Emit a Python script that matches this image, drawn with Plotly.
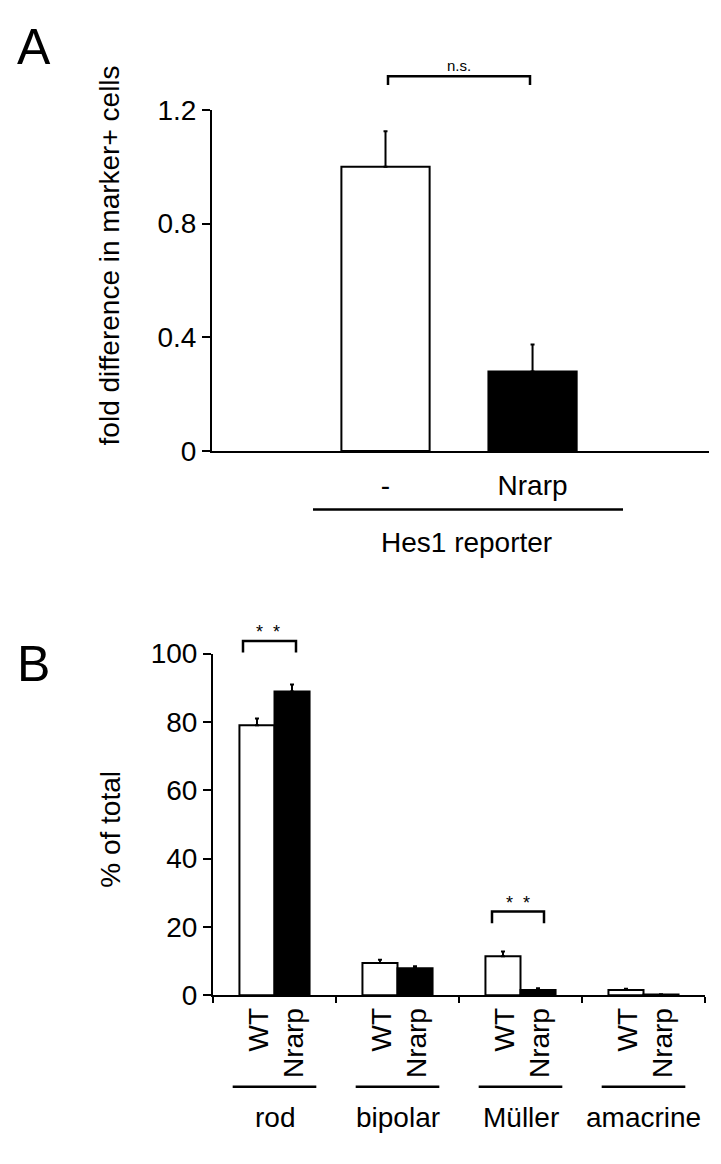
import plotly.graph_objects as go

# ---------------- data ----------------
A_categories = ["-", "Nrarp"]
A_values = [1.0, 0.28]
A_errors = [0.125, 0.095]
A_yticks = [0, 0.4, 0.8, 1.2]
A_yticktext = ["0", "0.4", "0.8", "1.2"]

B_cells = ["rod", "bipolar", "Müller", "amacrine"]
B_wt = [79.0, 9.4, 11.4, 1.5]
B_wt_err = [2.0, 1.0, 1.4, 0.4]
B_nrarp = [88.9, 7.9, 1.5, 0.2]
B_nrarp_err = [2.0, 0.6, 0.5, 0.1]
B_yticks = [0, 20, 40, 60, 80, 100]

W, H = 721, 1164
FONT = "Liberation Sans, Arial, Helvetica, sans-serif"


def px(x):
    return x / W


def py(y):
    return 1 - y / H


fig = go.Figure()

# Panel A
fig.add_trace(go.Bar(
    x=A_categories, y=A_values, width=0.6,
    marker=dict(color=["white", "black"], line=dict(color="black", width=2)),
    error_y=dict(type="data", array=A_errors, arrayminus=[0] * len(A_errors),
                 symmetric=False, color="black", thickness=2, width=2),
    xaxis="x", yaxis="y", showlegend=False,
))

# Panel B
fig.add_trace(go.Bar(
    x=B_cells, y=B_wt, name="WT",
    marker=dict(color="white", line=dict(color="black", width=2)),
    error_y=dict(type="data", array=B_wt_err, arrayminus=[0] * len(B_wt_err),
                 symmetric=False, color="black", thickness=2, width=2),
    xaxis="x2", yaxis="y2", showlegend=False,
))
fig.add_trace(go.Bar(
    x=B_cells, y=B_nrarp, name="Nrarp",
    marker=dict(color="black", line=dict(color="black", width=2)),
    error_y=dict(type="data", array=B_nrarp_err, arrayminus=[0] * len(B_nrarp_err),
                 symmetric=False, color="black", thickness=2, width=2),
    xaxis="x2", yaxis="y2", showlegend=False,
))

axis_common = dict(showgrid=False, zeroline=False, showline=True,
                   linecolor="black", linewidth=2, fixedrange=True)

fig.update_layout(
    width=W, height=H,
    margin=dict(l=0, r=0, t=0, b=0),
    paper_bgcolor="white", plot_bgcolor="white",
    font=dict(family=FONT, color="black", size=28),
    barmode="group", bargap=0.43, bargroupgap=0,
    xaxis=dict(domain=[px(212), px(709)], type="category", range=[-1.18, 2.2],
               ticks="outside", ticklen=8, tickcolor="rgba(0,0,0,0)",
               tickfont=dict(size=28), anchor="y", **axis_common),
    yaxis=dict(domain=[py(448), py(97.5)], range=[0, 1.2],
               tickvals=A_yticks, ticktext=A_yticktext,
               ticks="outside", ticklen=8, tickwidth=2, tickcolor="black",
               tickfont=dict(size=28), anchor="x", **axis_common),
    xaxis2=dict(domain=[px(213), px(705)], type="category", range=[-0.5, 3.5],
                ticks="outside", tickson="boundaries", ticklen=6, tickwidth=2,
                tickcolor="black", showticklabels=False, anchor="y2", **axis_common),
    yaxis2=dict(domain=[py(1007), py(656)], range=[0, 100],
                tickvals=B_yticks, ticks="outside", ticklen=8, tickwidth=2,
                tickcolor="black", tickfont=dict(size=28), anchor="x2", **axis_common),
)

ann = []
shapes = []

# panel letters
ann.append(dict(text="A", x=px(34), y=py(32.5), xref="paper", yref="paper",
                showarrow=False, xanchor="center", yanchor="middle",
                font=dict(size=50)))
ann.append(dict(text="B", x=px(33.5), y=py(666.5), xref="paper", yref="paper",
                showarrow=False, xanchor="center", yanchor="middle",
                font=dict(size=50)))

# axis titles
ann.append(dict(text="fold difference in marker+ cells", x=px(109), y=py(247),
                xref="paper", yref="paper", showarrow=False, textangle=-90,
                xanchor="center", yanchor="middle", font=dict(size=28)))
ann.append(dict(text="% of total", x=px(111), y=py(836),
                xref="paper", yref="paper", showarrow=False, textangle=-90,
                xanchor="center", yanchor="middle", font=dict(size=28)))

# panel A group line and label
shapes.append(dict(type="line", xref="paper", yref="paper",
                   x0=px(313), x1=px(623), y0=py(508), y1=py(508),
                   line=dict(color="black", width=2.5)))
ann.append(dict(text="Hes1 reporter", x=px(466), y=py(542), xref="paper", yref="paper",
                showarrow=False, xanchor="center", yanchor="middle", font=dict(size=28)))


def bracket(x0, x1, ytop, yleg):
    return dict(type="path", xref="paper", yref="paper",
                path=f"M {px(x0)},{py(yleg)} L {px(x0)},{py(ytop)} L {px(x1)},{py(ytop)} L {px(x1)},{py(yleg)}",
                line=dict(color="black", width=2.5))


STARS = "*\u00a0\u00a0*"

shapes.append(bracket(388, 530, 63, 72))
ann.append(dict(text="n.s.", x=px(459), y=py(52), xref="paper", yref="paper",
                showarrow=False, xanchor="center", yanchor="middle", font=dict(size=15)))

shapes.append(bracket(243, 296, 643, 655))
ann.append(dict(text=STARS, x=px(268), y=py(634), xref="paper", yref="paper",
                showarrow=False, xanchor="center", yanchor="middle", font=dict(size=18)))
shapes.append(bracket(492, 544, 921, 933))
ann.append(dict(text=STARS, x=px(518), y=py(912), xref="paper", yref="paper",
                showarrow=False, xanchor="center", yanchor="middle", font=dict(size=18)))

# panel B rotated genotype labels, underlines, cell labels
for i, cell in enumerate(B_cells):
    ann.append(dict(text="WT", x=i - 0.13, y=py(1018), xref="x2", yref="paper",
                    showarrow=False, textangle=-90, xanchor="center", yanchor="top",
                    font=dict(size=28)))
    ann.append(dict(text="Nrarp", x=i + 0.16, y=py(1018), xref="x2", yref="paper",
                    showarrow=False, textangle=-90, xanchor="center", yanchor="top",
                    font=dict(size=28)))
    shapes.append(dict(type="line", xref="x2", yref="paper",
                       x0=i - 0.34, x1=i + 0.34, y0=py(1101), y1=py(1101),
                       line=dict(color="black", width=2.5)))
    ann.append(dict(text=cell, x=i, y=py(1133), xref="x2", yref="paper",
                    showarrow=False, xanchor="center", yanchor="middle",
                    font=dict(size=28)))

fig.update_layout(annotations=ann, shapes=shapes)

fig.write_html("out.html",
               config={"displayModeBar": False},
               post_script="document.body.style.margin='0';document.body.style.overflow='hidden';")
